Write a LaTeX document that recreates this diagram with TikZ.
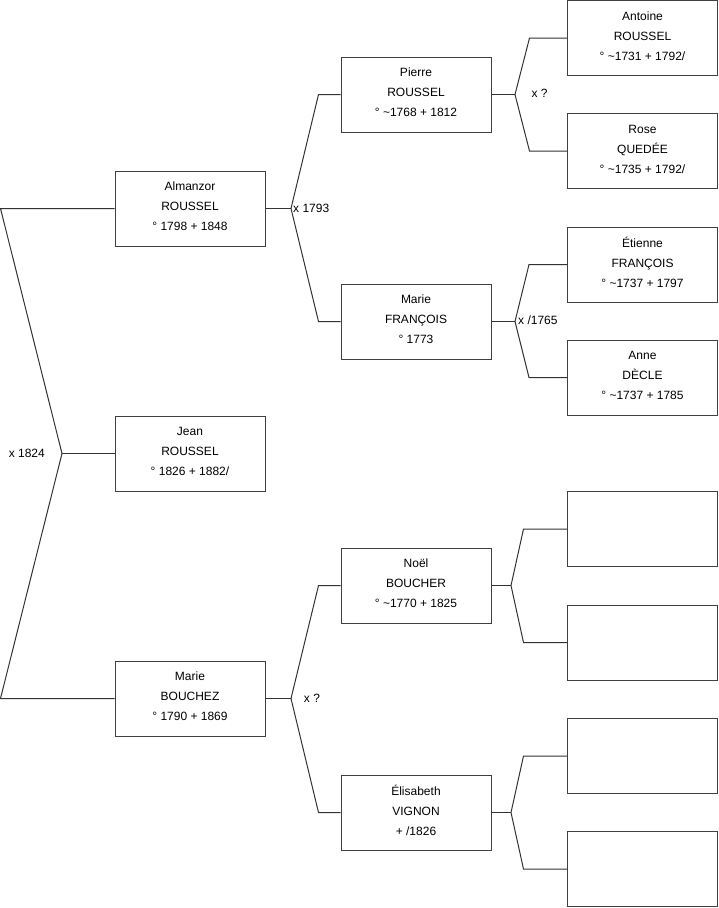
\documentclass[tikz,border=0pt]{standalone}
\usepackage{fontspec}
\setmainfont{Liberation Sans}
\newcommand\pers[3]{\rule{0pt}{9pt}#1\\#2\\#3\rule[-5pt]{0pt}{5pt}}
\begin{document}
\begin{tikzpicture}[x=1pt,y=-1pt,
  person/.style={draw=black!75,line width=1pt,minimum width=150pt,minimum height=75pt,
    inner sep=0pt,align=center,font=\fontsize{12}{20}\selectfont},
  link/.style={draw=black!80,line width=1pt},
  lbl/.style={inner sep=0pt,font=\fontsize{12}{14}\selectfont}]
\useasboundingbox (0,0) rectangle (719,908);
% generation 1
\node[person] (alm) at (190,208.5) {\pers{Almanzor}{ROUSSEL}{° 1798 + 1848}};
\node[person] (jean) at (190,453.5) {\pers{Jean}{ROUSSEL}{° 1826 + 1882/}};
\node[person] (bou) at (190,698.5) {\pers{Marie}{BOUCHEZ}{° 1790 + 1869}};
% generation 2
\node[person] (pie) at (416,94.5) {\pers{Pierre}{ROUSSEL}{° \textasciitilde 1768 + 1812}};
\node[person] (mf) at (416,321.5) {\pers{Marie}{FRANÇOIS}{° 1773}};
\node[person] (noe) at (416,585.5) {\pers{Noël}{BOUCHER}{° \textasciitilde 1770 + 1825}};
\node[person] (eli) at (416,812.5) {\pers{Élisabeth}{VIGNON}{+ /1826}};
% generation 3
\node[person] (ant) at (642.5,38) {\pers{Antoine}{ROUSSEL}{° \textasciitilde 1731 + 1792/}};
\node[person] (ros) at (642.5,151) {\pers{Rose}{QUEDÉE}{° \textasciitilde 1735 + 1792/}};
\node[person] (eti) at (642.5,264.5) {\pers{Étienne}{FRANÇOIS}{° \textasciitilde 1737 + 1797}};
\node[person] (ann) at (642.5,377.5) {\pers{Anne}{DÈCLE}{° \textasciitilde 1737 + 1785}};
\node[person] (e1) at (642.5,529) {};
\node[person] (e2) at (642.5,642.5) {};
\node[person] (e3) at (642.5,756) {};
\node[person] (e4) at (642.5,869) {};
% root connectors
\coordinate (rt) at (0.5,208.5);
\coordinate (rb) at (0.5,698.5);
\coordinate (rm) at (62,453.5);
\draw[link] (alm.west) -- (rt) -- (rm) -- (rb) -- (bou.west);
\draw[link] (rm) -- (jean.west);
\node[lbl,anchor=east] (l0) at (45,453.5) {x 1824};
% Almanzor parents
\coordinate (f1) at (291,208.5);
\draw[link] (alm.east) -- (f1);
\draw[link] (pie.west) -- ([xshift=-22pt]pie.west) -- (f1) -- ([xshift=-22pt]mf.west) -- (mf.west);
\node[lbl,anchor=west] (l1) at (293,208) {x 1793};
% Marie Bouchez parents
\coordinate (f6) at (291,698.5);
\draw[link] (bou.east) -- (f6);
\draw[link] (noe.west) -- ([xshift=-22pt]noe.west) -- (f6) -- ([xshift=-22pt]eli.west) -- (eli.west);
\node[lbl] (l6) at (312,698) {x ?};
% Pierre parents
\coordinate (f2) at (515,94.5);
\draw[link] (pie.east) -- (f2);
\draw[link] (ant.west) -- ([xshift=-37.5pt]ant.west) -- (f2) -- ([xshift=-37.5pt]ros.west) -- (ros.west);
\node[lbl] (l2) at (539.5,93) {x ?};
% Marie Francois parents
\coordinate (f3) at (515,321.5);
\draw[link] (mf.east) -- (f3);
\draw[link] (eti.west) -- ([xshift=-38pt]eti.west) -- (f3) -- ([xshift=-38pt]ann.west) -- (ann.west);
\node[lbl,anchor=west] (l3) at (518,320.5) {x /1765};
% Noel parents
\coordinate (f4) at (511,585.5);
\draw[link] (noe.east) -- (f4);
\draw[link] (e1.west) -- ([xshift=-43.5pt]e1.west) -- (f4) -- ([xshift=-43.5pt]e2.west) -- (e2.west);
% Elisabeth parents
\coordinate (f5) at (511,812.5);
\draw[link] (eli.east) -- (f5);
\draw[link] (e3.west) -- ([xshift=-43.5pt]e3.west) -- (f5) -- ([xshift=-43.5pt]e4.west) -- (e4.west);
\end{tikzpicture}
\end{document}
